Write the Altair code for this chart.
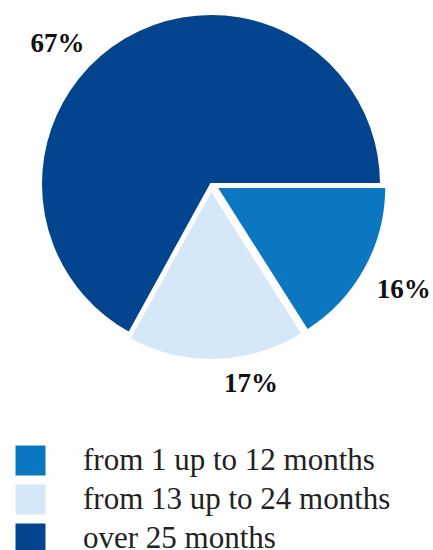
import altair as alt
import pandas as pd

# ---- data ----
categories = ["from 1 up to 12 months", "from 13 up to 24 months", "over 25 months"]
shares = [16, 17, 67]
labels = ["16%", "17%", "67%"]

# ---- styling ----
colors = ["#0a77c0", "#d6e8f7", "#02458e"]
explode = [6, 6, 0]            # px each slice is pulled out
label_radius = [220, 204, 208]  # px from centre
label_shift = [0, -9.5, -17]    # degrees from slice middle
CX, CY, R = 211, 184, 170
SERIF = "Liberation Serif"

df = pd.DataFrame({
    "order": list(range(len(categories))),
    "category": categories,
    "share": shares,
    "label": labels,
    "explode": explode,
    "lr": label_radius,
    "ls": label_shift,
})

base = alt.Chart(df).transform_window(
    cum="sum(share)", sort=[alt.SortField("order")], frame=[None, 0]
).transform_joinaggregate(
    total="sum(share)"
).transform_calculate(
    t0="(datum.cum - datum.share) / datum.total * 2 * PI + PI / 2",
    t1="datum.cum / datum.total * 2 * PI + PI / 2",
).transform_calculate(
    mid="(datum.t0 + datum.t1) / 2",
).transform_calculate(
    cx=f"{CX} + datum.explode * sin(datum.mid)",
    cy=f"{CY} - datum.explode * cos(datum.mid)",
    lx=f"{CX} + datum.lr * sin(datum.mid + datum.ls * PI / 180)",
    ly=f"{CY} - datum.lr * cos(datum.mid + datum.ls * PI / 180)",
)

arcs = base.mark_arc(radius=R, stroke="white", strokeWidth=2).encode(
    theta=alt.Theta("t0:Q", scale=None),
    theta2=alt.Theta2("t1:Q"),
    x=alt.X("cx:Q", scale=None),
    y=alt.Y("cy:Q", scale=None),
    color=alt.Color(
        "category:N",
        scale=alt.Scale(domain=categories, range=colors),
        legend=alt.Legend(
            title=None,
            orient="none",
            legendX=15,
            legendY=445,
            symbolType="square",
            symbolSize=900,
            symbolStrokeWidth=0,
            symbolOpacity=1,
            labelFont=SERIF,
            labelFontSize=31,
            labelColor="#222222",
            labelOffset=37,
            rowPadding=7,
            padding=0,
            labelLimit=0,
        ),
    ),
)

text = base.mark_text(
    font=SERIF, fontWeight="bold", fontSize=27, color="#111111"
).encode(
    x=alt.X("lx:Q", scale=None),
    y=alt.Y("ly:Q", scale=None),
    text="label:N",
)

chart = alt.layer(arcs, text).properties(
    width=433,
    height=550,
    autosize=alt.AutoSizeParams(type="none"),
    padding=0,
).configure_view(stroke=None)

chart.save("out.html", embed_options={"renderer": "svg", "actions": False})
